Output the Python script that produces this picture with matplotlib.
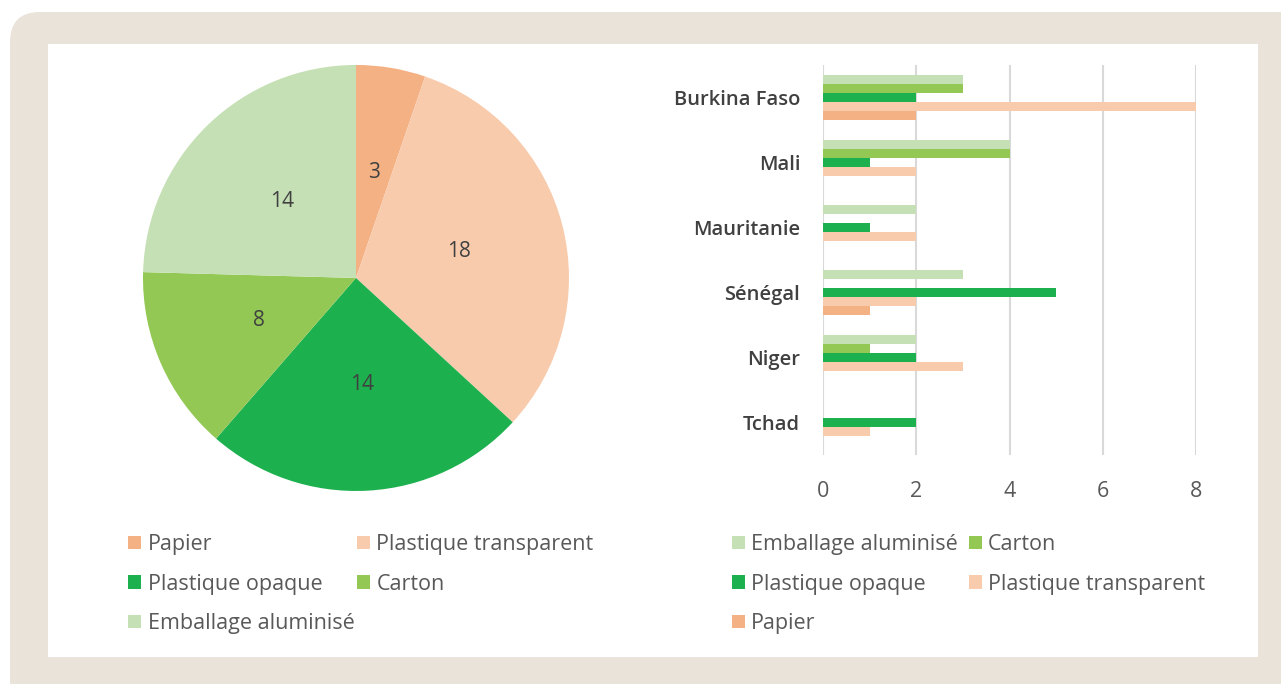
import matplotlib.pyplot as plt
import numpy as np
from matplotlib.patches import FancyBboxPatch, Rectangle, Patch

plt.rcParams["font.family"] = ["Open Sans", "DejaVu Sans"]

# ============= Data ===========#
materials = ["Papier", "Plastique transparent", "Plastique opaque", "Carton", "Emballage aluminisé"]
colors = ["#F4B183", "#F8CBAD", "#1DB04E", "#92C853", "#C5E0B4"]
pie_values = [3, 18, 14, 8, 14]

countries = ["Burkina Faso", "Mali", "Mauritanie", "Sénégal", "Niger", "Tchad"]
emballage = [3, 4, 2, 3, 2, 0]
carton = [3, 4, 0, 0, 1, 0]
opaque = [2, 1, 1, 5, 2, 2]
transparent = [8, 2, 2, 2, 3, 1]
papier = [2, 0, 0, 1, 0, 0]

TEXT = "#595959"
LEG_FS = 15.5


def main():
    fig = plt.figure(figsize=(12.81, 6.84), dpi=100)
    fig.patch.set_facecolor("white")

    # background frame
    fig.patches.append(FancyBboxPatch((0.10, -0.5), 13.5, 7.22,
                                      boxstyle="round,pad=0,rounding_size=0.3",
                                      transform=fig.dpi_scale_trans,
                                      facecolor="#EAE3D9", edgecolor="none", zorder=-2))
    fig.patches.append(Rectangle((0.48, 0.27), 12.10, 6.13,
                                 transform=fig.dpi_scale_trans,
                                 facecolor="white", edgecolor="none", zorder=-1))

    # ============= Pie ===========#
    ax1 = fig.add_axes([0.1116, 0.2822, 0.3326, 0.6228])
    total = sum(pie_values)
    wedges, _, autotexts = ax1.pie(
        pie_values, colors=colors, startangle=90, counterclock=False,
        autopct=lambda p: "{:d}".format(int(round(p * total / 100))),
        pctdistance=0.5, radius=1,
        textprops={"fontsize": 15, "color": "#404040"},
    )
    ax1.set_xlim(-1, 1)
    ax1.set_ylim(-1, 1)
    ax1.set_aspect("equal")

    order = [0, 2, 4, 1, 3]
    handles = [Patch(facecolor=colors[i]) for i in order]
    fig.legend(handles, [materials[i] for i in order], ncol=2,
               loc="upper left", bbox_to_anchor=(0.0935, 0.2317),
               frameon=False, fontsize=LEG_FS, labelcolor=TEXT,
               handlelength=0.6, handleheight=0.6, handletextpad=0.3,
               columnspacing=0.12, labelspacing=0.86, borderaxespad=0)

    # ============= Bars ===========#
    ax2 = fig.add_axes([0.6425, 0.335, 0.2912, 0.570])
    y = np.arange(len(countries))
    h = 0.137
    series = [emballage, carton, opaque, transparent, papier]
    sidx = [4, 3, 2, 1, 0]
    for k, (vals, ci) in enumerate(zip(series, sidx)):
        ax2.barh(y + (k - 2) * h, vals, height=h, color=colors[ci], zorder=3)
    ax2.set_ylim(5.5, -0.5)
    ax2.set_xlim(0, 8)
    ax2.set_xticks([0, 2, 4, 6, 8])
    ax2.set_yticks(y)
    ax2.set_yticklabels(countries, fontsize=14.5, color="#404040", fontweight="semibold")
    ax2.tick_params(axis="x", labelsize=15.5, labelcolor=TEXT, length=0, pad=19)
    ax2.tick_params(axis="y", length=0, pad=16.5)
    ax2.grid(axis="x", color="#D9D9D9", linewidth=1.5, zorder=0)
    for s in ax2.spines.values():
        s.set_visible(False)

    order2 = [4, 2, 0, 3, 1]
    handles2 = [Patch(facecolor=colors[i]) for i in order2]
    fig.legend(handles2, [materials[i] for i in order2], ncol=2,
               loc="upper left", bbox_to_anchor=(0.5645, 0.2317),
               frameon=False, fontsize=LEG_FS, labelcolor=TEXT,
               handlelength=0.6, handleheight=0.6, handletextpad=0.3,
               columnspacing=0.5, labelspacing=0.86, borderaxespad=0)

    plt.savefig("out.png", dpi=100)


if __name__ == "__main__":
    main()
